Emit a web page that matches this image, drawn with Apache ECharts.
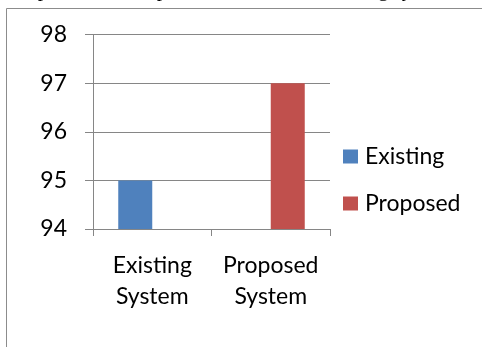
<!DOCTYPE html>
<html>
<head>
<meta charset="utf-8">
<script src="https://cdn.jsdelivr.net/npm/echarts@6/dist/echarts.min.js"></script>
<style>
html,body{margin:0;padding:0;background:#fff;}
#chart{width:482px;height:347px;}
</style>
</head>
<body>
<div id="chart"></div>
<script>
var categories = ['Existing\nSystem', 'Proposed\nSystem'];
var seriesNames = ['Existing', 'Proposed'];
var existingValues = [95, null];
var proposedValues = [null, 97];
var yTicks = [94, 95, 96, 97, 98];
var titleText = 'Comparison of Proposed method with existing system';

var font = 'Lato, "Open Sans", sans-serif';
var chart = echarts.init(document.getElementById('chart'), null, {renderer: 'canvas'});
chart.setOption({
  animation: false,
  backgroundColor: '#fff',
  graphic: [
    {type: 'rect', shape: {x: 6.5, y: 8.5, width: 600, height: 400}, style: {fill: 'none', stroke: '#8c8c8c', lineWidth: 1}, silent: true},
    {type: 'text', left: -3, top: -20, style: {text: titleText, font: '21px "Liberation Serif", "Times New Roman", serif', fill: '#000'}, silent: true}
  ],
  grid: {left: 93, right: 152, top: 34.7, bottom: 118, containLabel: false},
  legend: {
    orient: 'vertical', left: 338, top: 140, itemWidth: 15, itemHeight: 14, itemGap: 24,
    textStyle: {fontFamily: font, fontSize: 23, color: '#000', padding: [0, 0, 0, 2]},
    data: seriesNames.map(function(n){ return {name: n, icon: 'rect'}; })
  },
  xAxis: {
    type: 'category', data: categories,
    axisLine: {lineStyle: {color: '#868686', width: 1}},
    axisTick: {show: true, length: 7, alignWithLabel: false, lineStyle: {color: '#868686'}},
    axisLabel: {fontFamily: font, fontSize: 23, color: '#000', lineHeight: 31, margin: 21, interval: 0}
  },
  yAxis: {
    type: 'value', min: yTicks[0], max: yTicks[yTicks.length - 1], interval: 1,
    axisLine: {show: true, lineStyle: {color: '#868686', width: 1}},
    axisTick: {show: true, length: 8, lineStyle: {color: '#868686'}},
    splitLine: {lineStyle: {color: '#868686', width: 1}},
    axisLabel: {fontFamily: font, fontSize: 23, color: '#000', margin: 26}
  },
  series: [
    {name: seriesNames[0], type: 'bar', data: existingValues, barWidth: 34, barGap: '0%', itemStyle: {color: '#4F81BD'}},
    {name: seriesNames[1], type: 'bar', data: proposedValues, barWidth: 34, barGap: '0%', itemStyle: {color: '#C0504D'}}
  ]
});
</script>
</body>
</html>
